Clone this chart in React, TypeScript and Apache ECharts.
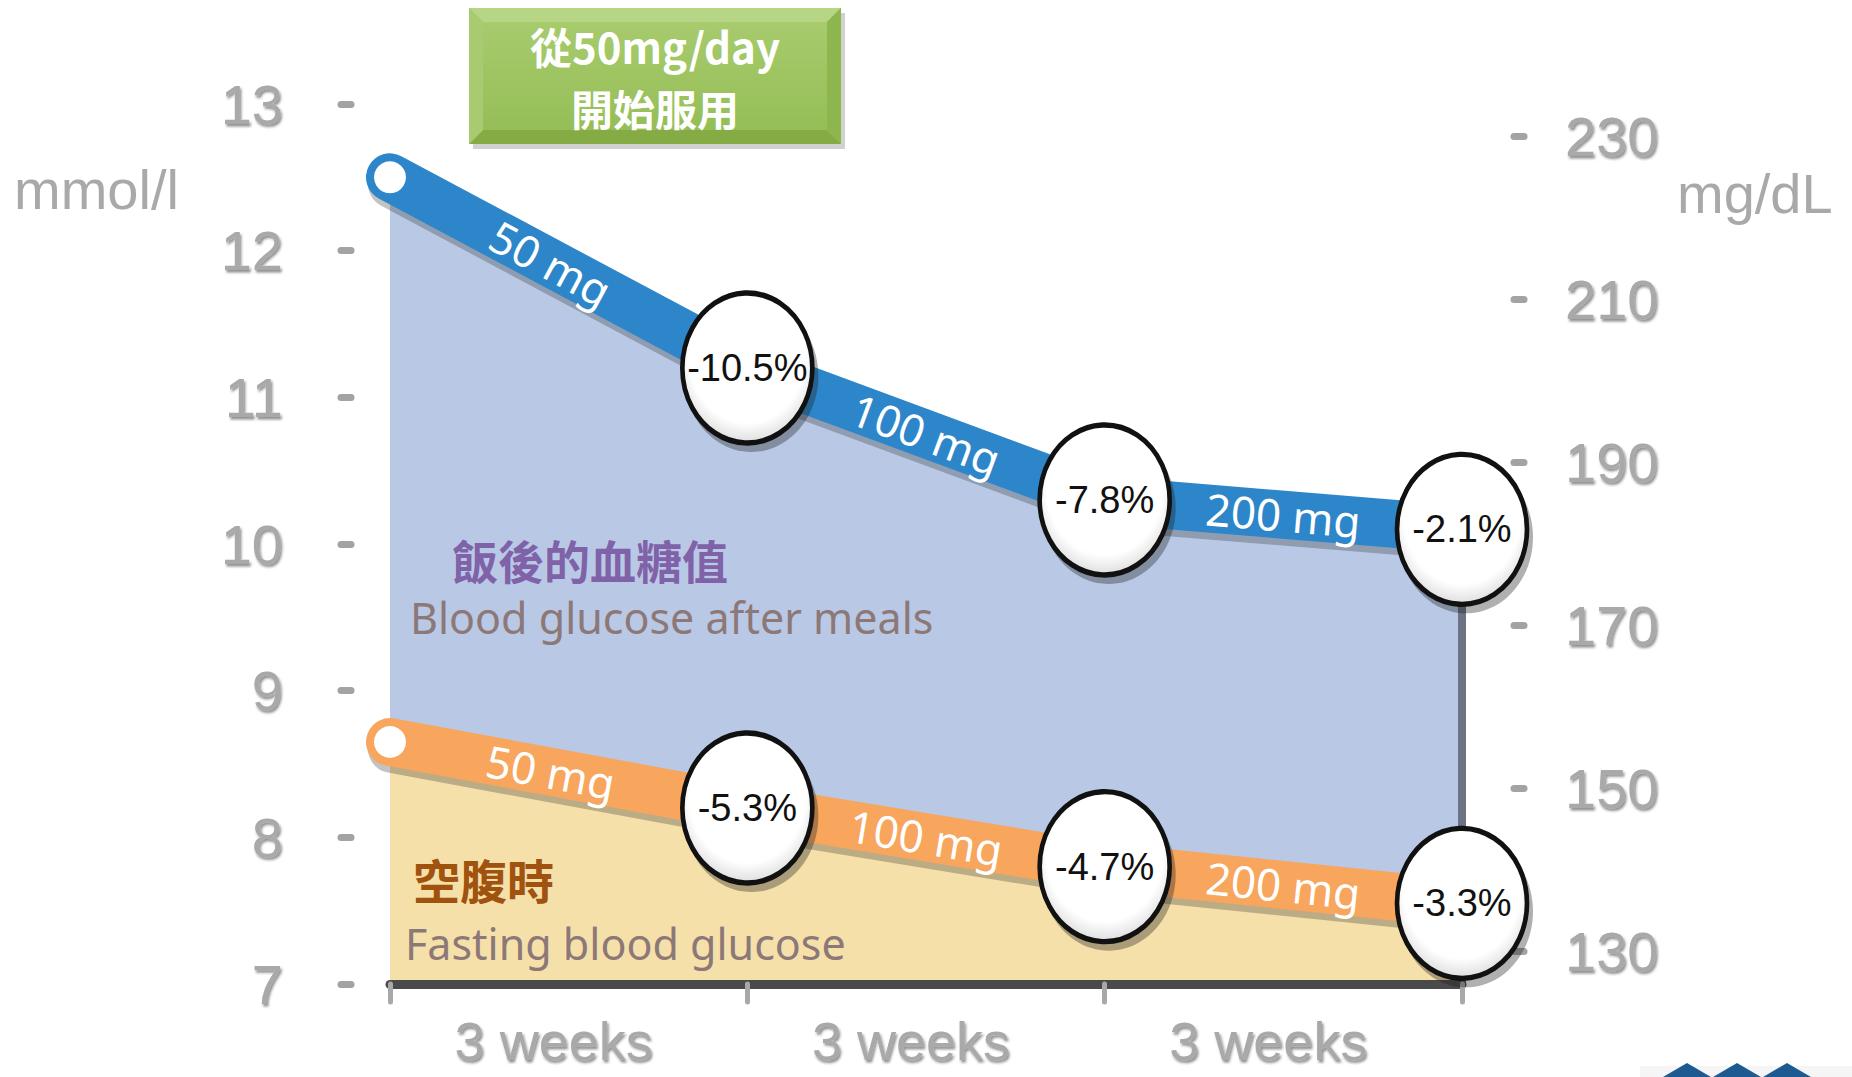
import React, { useEffect, useRef } from 'react';
import * as echarts from 'echarts';

// ---- data ----
const weekLabels = ['3 weeks', '3 weeks', '3 weeks'];
const stepIndex = [0, 1, 2, 3];
const afterMeals = [12.5, 11.2, 10.3, 10.1];
const fasting = [8.65, 8.2, 7.8, 7.55];
const afterMealsChange = ['-10.5%', '-7.8%', '-2.1%'];
const fastingChange = ['-5.3%', '-4.7%', '-3.3%'];
const doses = ['50 mg', '100 mg', '200 mg'];
const mmolRange = [7, 13];
const mmolTicks = [7, 8, 9, 10, 11, 12, 13];
const mgdlTicks = [130, 150, 170, 190, 210, 230];
const MMOL_TO_MGDL = 18;

const NARROW = "'Liberation Sans Narrow', 'Liberation Sans', Arial, sans-serif";
const SANS = "'Noto Sans', 'Open Sans', sans-serif";
const CJK = "'Noto Sans CJK TC', 'Noto Sans CJK SC', sans-serif";

const emboss = {
  color: '#a9a9a9',
  fontFamily: NARROW,
  fontSize: 56,
  textShadowColor: 'rgba(30,30,30,0.5)',
  textShadowBlur: 2,
  textShadowOffsetX: 1.5,
  textShadowOffsetY: 2.5,
};

function pairs(vals: number[]) {
  return stepIndex.map((x, i) => [x, vals[i]]);
}

function segData(vals: number[]) {
  return doses.map((_, i) => [stepIndex[i], vals[i], vals[i + 1]]);
}

function segEnds(api: any) {
  const i = api.value(0);
  const p0 = api.coord([i, api.value(1)]);
  const p1 = api.coord([i + 1, api.value(2)]);
  return { i, p0, p1 };
}

function doseLabelRender(params: any, api: any) {
  const { i, p0, p1 } = segEnds(api);
  const t = i === 0 ? 0.45 : 0.5;
  const x = p0[0] + (p1[0] - p0[0]) * t;
  const y = p0[1] + (p1[1] - p0[1]) * t;
  const ang = Math.atan2(p1[1] - p0[1], p1[0] - p0[0]);
  return {
    type: 'text',
    x,
    y,
    rotation: -ang,
    style: {
      text: doses[params.dataIndex],
      fill: '#ffffff',
      fontSize: 44,
      fontFamily: SANS,
      align: 'center',
      verticalAlign: 'middle',
    },
  };
}

function bandShadowRender(params: any, api: any) {
  const { p0, p1 } = segEnds(api);
  return {
    type: 'line',
    shape: { x1: p0[0] + 2, y1: p0[1] + 7, x2: p1[0] + 2, y2: p1[1] + 7 },
    style: { stroke: 'rgba(40,40,40,0.28)', lineWidth: 48, lineCap: 'round' },
  };
}

function bandHighlightRender(params: any, api: any) {
  const { p0, p1 } = segEnds(api);
  return {
    type: 'line',
    shape: { x1: p0[0], y1: p0[1] - 15, x2: p1[0], y2: p1[1] - 15 },
    style: { stroke: 'rgba(255,255,255,0.16)', lineWidth: 10, lineCap: 'round' },
  };
}

function circleData(vals: number[], changes: string[]) {
  return changes.map((c, i) => ({ value: [stepIndex[i + 1], vals[i + 1]], name: c }));
}

const circleStyle = {
  color: {
    type: 'radial',
    x: 0.5,
    y: 0.42,
    r: 0.62,
    colorStops: [
      { offset: 0, color: '#ffffff' },
      { offset: 0.72, color: '#ffffff' },
      { offset: 1, color: '#d4d4d4' },
    ],
  },
  borderColor: '#111111',
  borderWidth: 5,
};

function bevelBox() {
  const x0 = 469, y0 = 8, x1 = 841, y1 = 144, b = 14;
  const txt = (text: string, y: number) => ({
    type: 'text', x: 655, y,
    style: {
      text, fill: '#ffffff', fontSize: 42, fontWeight: 'bold', fontFamily: CJK,
      align: 'center', verticalAlign: 'middle',
      shadowColor: 'rgba(0,0,0,0.55)', shadowBlur: 3, shadowOffsetX: 2, shadowOffsetY: 2,
    },
  });
  return {
    type: 'group',
    children: [
      { type: 'rect', shape: { x: x0 + 4, y: y0 + 5, width: x1 - x0, height: y1 - y0 }, style: { fill: 'rgba(0,0,0,0.18)' } },
      { type: 'rect', shape: { x: x0, y: y0, width: x1 - x0, height: y1 - y0 }, style: { fill: '#98c05a' } },
      { type: 'polygon', shape: { points: [[x0, y0], [x1, y0], [x1 - b, y0 + b], [x0 + b, y0 + b]] }, style: { fill: '#b6d585' } },
      { type: 'polygon', shape: { points: [[x0, y1], [x1, y1], [x1 - b, y1 - b], [x0 + b, y1 - b]] }, style: { fill: '#84ab44' } },
      { type: 'polygon', shape: { points: [[x0, y0], [x0 + b, y0 + b], [x0 + b, y1 - b], [x0, y1]] }, style: { fill: '#a8cb72' } },
      { type: 'polygon', shape: { points: [[x1, y0], [x1 - b, y0 + b], [x1 - b, y1 - b], [x1, y1]] }, style: { fill: '#8db64f' } },
      {
        type: 'rect',
        shape: { x: x0 + b, y: y0 + b, width: x1 - x0 - 2 * b, height: y1 - y0 - 2 * b },
        style: {
          fill: {
            type: 'linear', x: 0, y: 0, x2: 0, y2: 1,
            colorStops: [{ offset: 0, color: '#a7cb6d' }, { offset: 1, color: '#95be57' }],
          },
        },
      },
      txt('從50mg/day', 45),
      txt('開始服用', 107),
    ],
  };
}

function embossText(text: string, x: number, y: number) {
  return {
    type: 'text', x, y,
    style: {
      text, fill: '#a9a9a9', fontSize: 56, fontFamily: NARROW, align: 'left', verticalAlign: 'middle',
      shadowColor: 'rgba(30,30,30,0.5)', shadowBlur: 2, shadowOffsetX: 1.5, shadowOffsetY: 2.5,
    },
  };
}

function plainText(text: string, x: number, y: number, fill: string, fontSize: number, fontFamily: string, bold = false) {
  return {
    type: 'text', x, y, z: 20,
    style: { text, fill, fontSize, fontFamily, fontWeight: bold ? 'bold' : 'normal', align: 'left', verticalAlign: 'middle' },
  };
}

function logo() {
  const peaks = [1687, 1737, 1787];
  return {
    type: 'group',
    children: [
      { type: 'rect', shape: { x: 1640, y: 1066, width: 212, height: 11 }, style: { fill: 'rgba(0,0,0,0.04)' } },
      ...peaks.map((px) => ({
        type: 'polygon',
        shape: { points: [[px - 24, 1077], [px, 1063], [px + 24, 1077]] },
        style: { fill: '#1e5a92' },
      })),
    ],
  };
}

export default function App() {
  const ref = useRef<HTMLDivElement>(null);

  useEffect(() => {
    document.body.style.margin = '0';
    if (!ref.current) return;
    const chart = echarts.init(ref.current, undefined, { renderer: 'svg' });

    const tickStyle = { color: '#a3a3a3', width: 7, cap: 'round' };

    const option: any = {
      animation: false,
      backgroundColor: '#ffffff',
      grid: { left: 390, right: 390, top: 104, bottom: 93, containLabel: false },
      xAxis: [
        {
          type: 'value',
          min: 0,
          max: 3,
          interval: 1,
          position: 'bottom',
          z: 3,
          axisLine: { show: true, onZero: false, lineStyle: { color: '#4a4a4a', width: 9 } },
          axisTick: { show: true, length: 18, lineStyle: { color: '#a8a8a8', width: 5, cap: 'round' } },
          axisLabel: {
            show: true,
            customValues: [0.5, 1.5, 2.5],
            formatter: (v: number) => weekLabels[Math.floor(v)],
            margin: 30,
            padding: [0, 30, 0, 0],
            ...emboss,
            fontSize: 54,
          },
          splitLine: { show: false },
        },
      ],
      yAxis: [
        {
          type: 'value',
          position: 'left',
          min: mmolRange[0],
          max: mmolRange[1],
          interval: 1,
          offset: 39,
          axisLine: { show: false, onZero: false },
          axisTick: { show: true, length: 10, customValues: mmolTicks, lineStyle: tickStyle },
          axisLabel: { ...emboss, customValues: mmolTicks, margin: 68, padding: [14, 0, 0, 0] },
          splitLine: { show: false },
        },
        {
          type: 'value',
          position: 'right',
          min: mmolRange[0] * MMOL_TO_MGDL,
          max: mmolRange[1] * MMOL_TO_MGDL,
          offset: 52,
          axisLine: { show: false, onZero: false },
          axisTick: { show: true, length: 10, customValues: mgdlTicks, lineStyle: tickStyle },
          axisLabel: { ...emboss, customValues: mgdlTicks, margin: 51, padding: [14, 0, 0, 0] },
          splitLine: { show: false },
        },
      ],
      series: [
        {
          type: 'line', name: 'afterArea', data: pairs(afterMeals), symbol: 'none', silent: true, z: 1,
          lineStyle: { width: 0 },
          areaStyle: { color: '#b9c9e5', opacity: 1, origin: 'start' },
        },
        {
          type: 'line', name: 'fastingArea', data: pairs(fasting), symbol: 'none', silent: true, z: 2,
          lineStyle: { width: 0 },
          areaStyle: { color: '#f6e0aa', opacity: 1, origin: 'start' },
        },
        {
          type: 'custom', name: 'wall', z: 3, silent: true,
          data: [[stepIndex[3], afterMeals[3], mmolRange[0]]],
          encode: { x: 0, y: [1, 2] },
          renderItem: (params: any, api: any) => {
            const top = api.coord([api.value(0), api.value(1)]);
            const bot = api.coord([api.value(0), api.value(2)]);
            return {
              type: 'line',
              shape: { x1: top[0], y1: top[1], x2: bot[0], y2: bot[1] },
              style: { stroke: '#6b7385', lineWidth: 8 },
            };
          },
        },
        {
          type: 'custom', name: 'afterShadow', z: 3, silent: true,
          data: segData(afterMeals), encode: { x: 0, y: [1, 2] }, renderItem: bandShadowRender,
        },
        {
          type: 'custom', name: 'fastingShadow', z: 3, silent: true,
          data: segData(fasting), encode: { x: 0, y: [1, 2] }, renderItem: bandShadowRender,
        },
        {
          type: 'line', name: 'afterBand', data: pairs(afterMeals), symbol: 'none', silent: true, z: 4,
          lineStyle: { color: '#2d86c9', width: 48, cap: 'round', join: 'round' },
        },
        {
          type: 'line', name: 'fastingBand', data: pairs(fasting), symbol: 'none', silent: true, z: 4,
          lineStyle: { color: '#f8a55d', width: 48, cap: 'round', join: 'round' },
        },
        {
          type: 'custom', name: 'afterHighlight', z: 4, silent: true,
          data: segData(afterMeals), encode: { x: 0, y: [1, 2] }, renderItem: bandHighlightRender,
        },
        {
          type: 'custom', name: 'fastingHighlight', z: 4, silent: true,
          data: segData(fasting), encode: { x: 0, y: [1, 2] }, renderItem: bandHighlightRender,
        },
        {
          type: 'custom', name: 'afterDose', z: 5, silent: true,
          data: segData(afterMeals), encode: { x: 0, y: [1, 2] }, renderItem: doseLabelRender,
        },
        {
          type: 'custom', name: 'fastingDose', z: 5, silent: true,
          data: segData(fasting), encode: { x: 0, y: [1, 2] }, renderItem: doseLabelRender,
        },
        {
          type: 'scatter', name: 'start', z: 5, silent: true,
          data: [[stepIndex[0], afterMeals[0]], [stepIndex[0], fasting[0]]],
          symbolSize: 32,
          itemStyle: { color: '#ffffff', opacity: 1 },
        },
        {
          type: 'scatter', name: 'circleShadow', z: 5, silent: true,
          data: [...circleData(afterMeals, afterMealsChange), ...circleData(fasting, fastingChange)],
          symbolSize: [134, 152],
          symbolOffset: [4, 8],
          itemStyle: { color: 'rgba(30,30,30,0.35)', opacity: 1 },
        },
        {
          type: 'scatter', name: 'afterChange', z: 6, silent: true,
          data: circleData(afterMeals, afterMealsChange),
          symbolSize: [130, 150],
          itemStyle: { ...circleStyle, opacity: 1 },
          label: { show: true, position: 'inside', formatter: '{b}', color: '#111111', fontSize: 38, fontFamily: NARROW },
        },
        {
          type: 'scatter', name: 'fastingChange', z: 6, silent: true,
          data: circleData(fasting, fastingChange),
          symbolSize: [130, 150],
          itemStyle: { ...circleStyle, opacity: 1 },
          label: { show: true, position: 'inside', formatter: '{b}', color: '#111111', fontSize: 38, fontFamily: NARROW },
        },
      ],
      graphic: [
        bevelBox(),
        embossText('mmol/l', 14, 189),
        embossText('mg/dL', 1677, 193),
        plainText('飯後的血糖值', 452, 559, '#8062a8', 46, CJK, true),
        plainText('Blood glucose after meals', 410, 617, '#8d7878', 43, SANS),
        plainText('空腹時', 413, 878, '#a0520f', 47, CJK, true),
        plainText('Fasting blood glucose', 405, 943, '#8d7878', 43, SANS),
        logo(),
      ],
    };

    chart.setOption(option);
    return () => chart.dispose();
  }, []);

  return <div ref={ref} style={{ width: 1852, height: 1077 }} />;
}
